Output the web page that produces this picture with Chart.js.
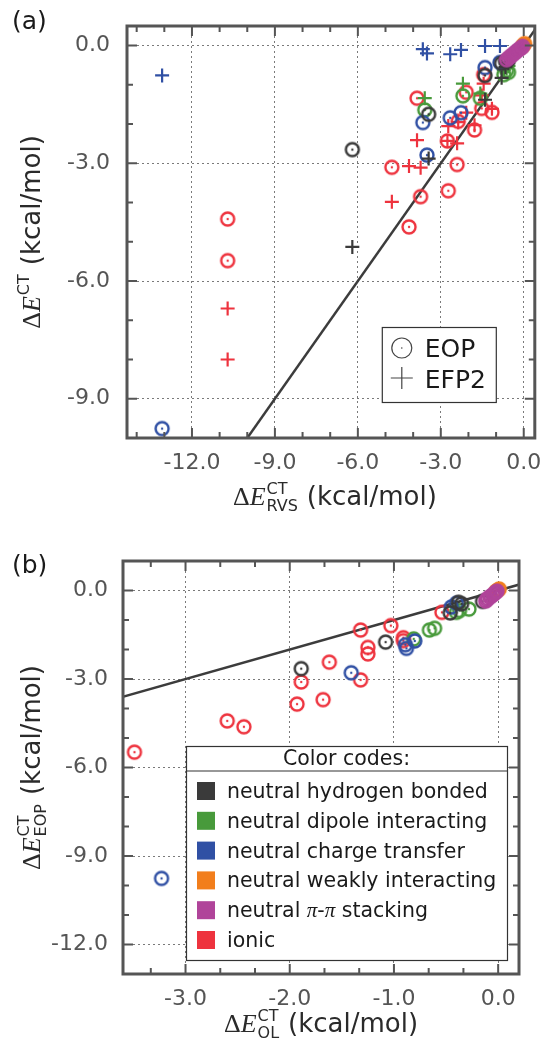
<!DOCTYPE html>
<html>
<head>
<meta charset="utf-8">
<script src="https://cdn.jsdelivr.net/npm/chart.js@4.4.1/dist/chart.umd.min.js"></script>
<style>
  html, body { margin: 0; padding: 0; background: #fff; }
  #wrap { position: relative; width: 544px; height: 1048px; overflow: hidden; }
  #wrap canvas { position: absolute; left: 0; }
  #chartA { top: 0; }
  #chartB { top: 520px; }
</style>
</head>
<body>
<div id="wrap">
  <canvas id="chartA" width="544" height="520"></canvas>
  <canvas id="chartB" width="544" height="528"></canvas>
</div>
<script>
// values in kcal/mol, one entry per complex
// rvs = x of panel (a), ol = x of panel (b), eop = y of both, efp2 = crosses of (a)
var hbRVS  = [-6.20, -3.44, -1.40, -0.80, -0.56, -0.66];
var hbEOP  = [-2.65, -1.75, -0.76, -0.45, -0.37, -0.40];
var hbEFP2 = [-5.13, -2.88, -1.38, -0.82, -0.45, -0.55];
var hbOL   = [-1.89, -1.08, -0.46, -0.35, -0.15, -0.38];

var dipRVS  = [-3.58, -2.20, -1.57, -0.72, -0.62, -0.55];
var dipEOP  = [-1.64, -1.28, -1.34, -0.74, -0.63, -0.68];
var dipEFP2 = [-1.34, -0.97, -1.22, -0.62, -0.58, -0.52];
var dipOL   = [-0.81, -0.61, -0.66, -0.40, -0.28, -0.37];

var ctRVS  = [-13.08, -3.50, -3.65, -2.66, -2.27, -1.40, -0.86];
var ctEOP  = [-9.76, -2.79, -1.96, -1.84, -1.71, -0.56, -0.43];
var ctEFP2 = [-0.76, -0.20, -0.09, -0.22, -0.11, -0.01, -0.01];
var ctOL   = [-3.23, -1.41, -0.88, -0.89, -0.80, -0.45, -0.40];

var weakRVS  = [-0.05, 0.00, 0.03];
var weakEOP  = [-0.02, 0.02, 0.05];
var weakEFP2 = [-0.03, 0.01, 0.04];
var weakOL   = [-0.02, 0.00, 0.01];

var pipiRVS  = [-0.62, -0.54, -0.47, -0.40, -0.33, -0.27, -0.20, -0.14, -0.08, -0.04];
var pipiEOP  = [-0.36, -0.31, -0.27, -0.23, -0.19, -0.15, -0.11, -0.08, -0.05, -0.02];
var pipiEFP2 = [-0.33, -0.30, -0.25, -0.21, -0.18, -0.14, -0.10, -0.07, -0.04, -0.02];
var pipiOL   = [-0.12, -0.11, -0.10, -0.08, -0.07, -0.05, -0.04, -0.03, -0.02, -0.01];

var ionRVS  = [-10.71, -10.71, -4.77, -4.15, -3.73, -3.86, -2.76, -2.73, -2.41, -2.37, -2.08, -1.78, -1.52, -1.15, -1.45];
var ionEOP  = [-4.42, -5.48, -3.10, -4.62, -3.85, -1.34, -2.43, -3.70, -3.03, -1.93, -1.19, -2.15, -1.60, -1.70, -0.74];
var ionEFP2 = [-6.70, -8.00, -3.98, -3.07, -3.11, -2.41, -2.43, -2.05, -2.49, -1.95, -1.71, -2.03, -1.27, -1.61, -0.97];
var ionOL   = [-2.60, -3.49, -1.89, -2.44, -1.93, -1.32, -1.62, -1.68, -1.32, -1.25, -1.03, -1.25, -0.91, -0.91, -0.54];

var diagonal = [-15, 1]; // y = x

var groups = {
  hb:   { label: 'neutral hydrogen bonded',   color: '#3a3a3a', rvs: hbRVS,   eop: hbEOP,   efp2: hbEFP2,   ol: hbOL },
  dip:  { label: 'neutral dipole interacting', color: '#489a3b', rvs: dipRVS,  eop: dipEOP,  efp2: dipEFP2,  ol: dipOL },
  ct:   { label: 'neutral charge transfer',   color: '#3050a4', rvs: ctRVS,   eop: ctEOP,   efp2: ctEFP2,   ol: ctOL },
  weak: { label: 'neutral weakly interacting', color: '#f27e1c', rvs: weakRVS, eop: weakEOP, efp2: weakEFP2, ol: weakOL },
  pipi: { label: 'neutral \u03c0-\u03c0 stacking', color: '#b0449a', rvs: pipiRVS, eop: pipiEOP, efp2: pipiEFP2, ol: pipiOL },
  ion:  { label: 'ionic',                     color: '#ee333e', rvs: ionRVS,  eop: ionEOP,  efp2: ionEFP2,  ol: ionOL }
};
var legendOrder = ['hb', 'dip', 'ct', 'weak', 'pipi', 'ion'];
var drawOrder = ['pipi', 'weak', 'hb', 'ct', 'dip', 'ion']; // first one ends up on top

var SANS = '"DejaVu Sans"';
var SERIF = '"Liberation Serif"';

// open circle with a dot in the middle
function ring(color, r) {
  var c = document.createElement('canvas');
  var s = Math.ceil(2 * r + 5);
  c.width = s; c.height = s;
  var g = c.getContext('2d');
  g.strokeStyle = color;
  g.lineWidth = 2.4;
  g.beginPath(); g.arc(s / 2, s / 2, r, 0, 2 * Math.PI); g.stroke();
  g.fillStyle = color;
  g.beginPath(); g.arc(s / 2, s / 2, 1.2, 0, 2 * Math.PI); g.fill();
  return c;
}

function pts(xs, ys) {
  return xs.map(function (x, i) { return { x: x, y: ys[i] }; });
}

function circles(g, xs) {
  return { type: 'scatter', data: pts(xs, g.eop), pointStyle: ring(g.color, 6.5), pointRadius: 7, borderColor: g.color };
}
function crosses(g) {
  return { type: 'scatter', data: pts(g.rvs, g.efp2), pointStyle: 'cross', pointRadius: 7, borderWidth: 2.2, borderColor: g.color };
}
function diagLine() {
  return { type: 'line', data: pts(diagonal, diagonal), borderColor: '#3c3c3c', borderWidth: 2.5, pointRadius: 0, clip: 0 };
}

function axes(xr, yr, xPad, yPad, xHeight, yWidth) {
  var font = { family: 'DejaVu Sans', size: 22 };
  var fmt = function (v) { return Number(v).toFixed(1); };
  return {
    x: {
      type: 'linear', min: xr[0], max: xr[1],
      ticks: { stepSize: xr[2], includeBounds: false, font: font, color: '#555', padding: xPad, maxRotation: 0, autoSkip: false, callback: fmt },
      grid: { color: '#7a7a7a', lineWidth: 1, drawTicks: false },
      border: { display: false, dash: [2, 3] },
      afterFit: function (s) { s.height = xHeight; s.paddingLeft = 0; s.paddingRight = 0; }
    },
    y: {
      type: 'linear', min: yr[0], max: yr[1],
      ticks: { stepSize: yr[2], includeBounds: false, font: font, color: '#555', padding: yPad, autoSkip: false, callback: fmt },
      grid: { color: '#7a7a7a', lineWidth: 1, drawTicks: false },
      border: { display: false, dash: [2, 3] },
      afterFit: function (s) { s.width = yWidth; s.paddingTop = 0; s.paddingBottom = 0; }
    }
  };
}

// frame and inward ticks on all four sides
function framePlugin(xMinor, xMajor, yMinor, yMajor) {
  return {
    id: 'frame',
    afterDatasetsDraw: function (chart) {
      var ctx = chart.ctx, a = chart.chartArea, xs = chart.scales.x, ys = chart.scales.y;
      var k, v, p, len;
      ctx.save();
      ctx.strokeStyle = '#555';
      ctx.lineWidth = 2;
      ctx.beginPath();
      for (k = Math.ceil(xs.min / xMinor - 1e-9); k * xMinor <= xs.max + 1e-9; k++) {
        v = k * xMinor; p = xs.getPixelForValue(v);
        len = Math.abs(v / xMajor - Math.round(v / xMajor)) < 1e-6 ? 10 : 6;
        ctx.moveTo(p, a.bottom); ctx.lineTo(p, a.bottom - len);
        ctx.moveTo(p, a.top); ctx.lineTo(p, a.top + len);
      }
      for (k = Math.ceil(ys.min / yMinor - 1e-9); k * yMinor <= ys.max + 1e-9; k++) {
        v = k * yMinor; p = ys.getPixelForValue(v);
        len = Math.abs(v / yMajor - Math.round(v / yMajor)) < 1e-6 ? 10 : 6;
        ctx.moveTo(a.left, p); ctx.lineTo(a.left + len, p);
        ctx.moveTo(a.right, p); ctx.lineTo(a.right - len, p);
      }
      ctx.stroke();
      ctx.lineWidth = 3;
      ctx.strokeRect(a.left, a.top, a.right - a.left, a.bottom - a.top);
      ctx.restore();
    }
  };
}

// ΔE^CT_sub (kcal/mol), centred on (x, y) baseline
function axisTitle(ctx, x, y, sub, angle) {
  var fMain = '26px ' + SERIF, fMath = 'italic 26px ' + SERIF, fScript = '16px ' + SANS, fUnit = '26px ' + SANS;
  ctx.save();
  ctx.translate(x, y);
  ctx.rotate(angle);
  ctx.fillStyle = '#2a2a2a';
  ctx.textBaseline = 'alphabetic';
  ctx.textAlign = 'left';
  ctx.font = fMain; var wD = ctx.measureText('\u0394').width;
  ctx.font = fMath; var wE = ctx.measureText('E').width;
  ctx.font = fScript; var wS = Math.max(ctx.measureText('CT').width, ctx.measureText(sub).width);
  ctx.font = fUnit; var wU = ctx.measureText('(kcal/mol)').width;
  var gap = 9, total = wD + wE + 1 + wS + gap + wU;
  var cx = -total / 2;
  ctx.font = fMain; ctx.fillText('\u0394', cx, 0); cx += wD;
  ctx.font = fMath; ctx.fillText('E', cx, 0); cx += wE + 1;
  ctx.font = fScript; ctx.fillText('CT', cx, -11); ctx.fillText(sub, cx, 6); cx += wS + gap;
  ctx.font = fUnit; ctx.fillText('(kcal/mol)', cx, 0);
  ctx.restore();
}

var decoA = {
  id: 'decoA',
  afterDraw: function (chart) {
    var ctx = chart.ctx, a = chart.chartArea;
    axisTitle(ctx, (a.left + a.right) / 2 + 4, 505, 'RVS', 0);
    axisTitle(ctx, 40, (a.top + a.bottom) / 2, '', -Math.PI / 2);
    ctx.save();
    ctx.fillStyle = '#1a1a1a';
    ctx.font = '25px ' + SANS;
    ctx.fillText('(a)', 12, 29);
    // EOP / EFP2 legend
    var bx = a.right - 153, by = a.top + 301;
    ctx.fillStyle = '#fff';
    ctx.fillRect(bx, by, 114, 75);
    ctx.strokeStyle = '#333'; ctx.lineWidth = 1.2;
    ctx.strokeRect(bx + 0.5, by + 0.5, 114, 75);
    ctx.strokeStyle = '#444';
    ctx.beginPath(); ctx.arc(bx + 20, by + 21, 10, 0, 2 * Math.PI); ctx.stroke();
    ctx.fillStyle = '#444';
    ctx.beginPath(); ctx.arc(bx + 20, by + 21, 0.8, 0, 2 * Math.PI); ctx.fill();
    ctx.beginPath();
    ctx.moveTo(bx + 9, by + 51); ctx.lineTo(bx + 31, by + 51);
    ctx.moveTo(bx + 20, by + 40); ctx.lineTo(bx + 20, by + 62);
    ctx.stroke();
    ctx.fillStyle = '#1a1a1a';
    ctx.font = '25px ' + SANS;
    ctx.fillText('EOP', bx + 43, by + 30);
    ctx.fillText('EFP2', bx + 43, by + 61);
    ctx.restore();
  }
};

var decoB = {
  id: 'decoB',
  afterDraw: function (chart) {
    var ctx = chart.ctx, a = chart.chartArea;
    axisTitle(ctx, (a.left + a.right) / 2, 512, 'OL', 0);
    axisTitle(ctx, 40, (a.top + a.bottom) / 2, 'EOP', -Math.PI / 2);
    ctx.save();
    ctx.fillStyle = '#1a1a1a';
    ctx.font = '25px ' + SANS;
    ctx.fillText('(b)', 12, 53);
    // colour code legend
    var bx = 186, by = 226, bw = 321, bh = 214;
    ctx.fillStyle = '#fff';
    ctx.fillRect(bx, by, bw, bh);
    ctx.strokeStyle = '#333'; ctx.lineWidth = 1.2;
    ctx.strokeRect(bx + 0.5, by + 0.5, bw, bh);
    ctx.beginPath(); ctx.moveTo(bx, by + 25); ctx.lineTo(bx + bw, by + 25); ctx.stroke();
    ctx.fillStyle = '#1a1a1a';
    ctx.font = '20.5px ' + SANS;
    ctx.textAlign = 'center';
    ctx.fillText('Color codes:', bx + bw / 2, by + 19);
    ctx.textAlign = 'left';
    legendOrder.forEach(function (key, i) {
      var g = groups[key], ry = by + 36 + i * 29.8;
      ctx.fillStyle = g.color;
      ctx.fillRect(bx + 11, ry, 18, 18);
      ctx.fillStyle = '#1a1a1a';
      var tx = bx + 41, ty = ry + 16;
      if (key === 'pipi') {
        ctx.font = '20.5px ' + SANS; ctx.fillText('neutral ', tx, ty); tx += ctx.measureText('neutral ').width;
        ctx.font = 'italic 21px ' + SERIF; ctx.fillText('\u03c0', tx, ty); tx += ctx.measureText('\u03c0').width;
        ctx.font = '20.5px ' + SANS; ctx.fillText('-', tx, ty); tx += ctx.measureText('-').width;
        ctx.font = 'italic 21px ' + SERIF; ctx.fillText('\u03c0', tx, ty); tx += ctx.measureText('\u03c0').width;
        ctx.font = '20.5px ' + SANS; ctx.fillText(' stacking', tx, ty);
      } else {
        ctx.font = '20.5px ' + SANS;
        ctx.fillText(g.label, tx, ty);
      }
    });
    ctx.restore();
  }
};

var setsA = [], setsB = [];
drawOrder.forEach(function (key) {
  var g = groups[key];
  setsA.push(circles(g, g.rvs));
  setsA.push(crosses(g));
  setsB.push(circles(g, g.ol));
});
setsA.push(diagLine());
setsB.push(diagLine());

var common = {
  responsive: false,
  animation: false,
  events: [],
  plugins: { legend: { display: false }, tooltip: { enabled: false } }
};

new Chart(document.getElementById('chartA'), {
  type: 'scatter',
  data: { datasets: setsA },
  options: Object.assign({}, common, {
    layout: { padding: { top: 26, right: 7, left: 0, bottom: 0 } },
    scales: axes([-14.35, 0.4, 3], [-10, 0.5, 3], 12, 17, 82, 127)
  }),
  plugins: [framePlugin(1, 3, 1, 3), decoA]
});

new Chart(document.getElementById('chartB'), {
  type: 'scatter',
  data: { datasets: setsB },
  options: Object.assign({}, common, {
    layout: { padding: { top: 41, right: 25, left: 0, bottom: 0 } },
    scales: axes([-3.6, 0.2, 1], [-13, 1, 3], 12, 15, 74, 123)
  }),
  plugins: [framePlugin(1 / 3, 1, 1, 3), decoB]
});
</script>
</body>
</html>
